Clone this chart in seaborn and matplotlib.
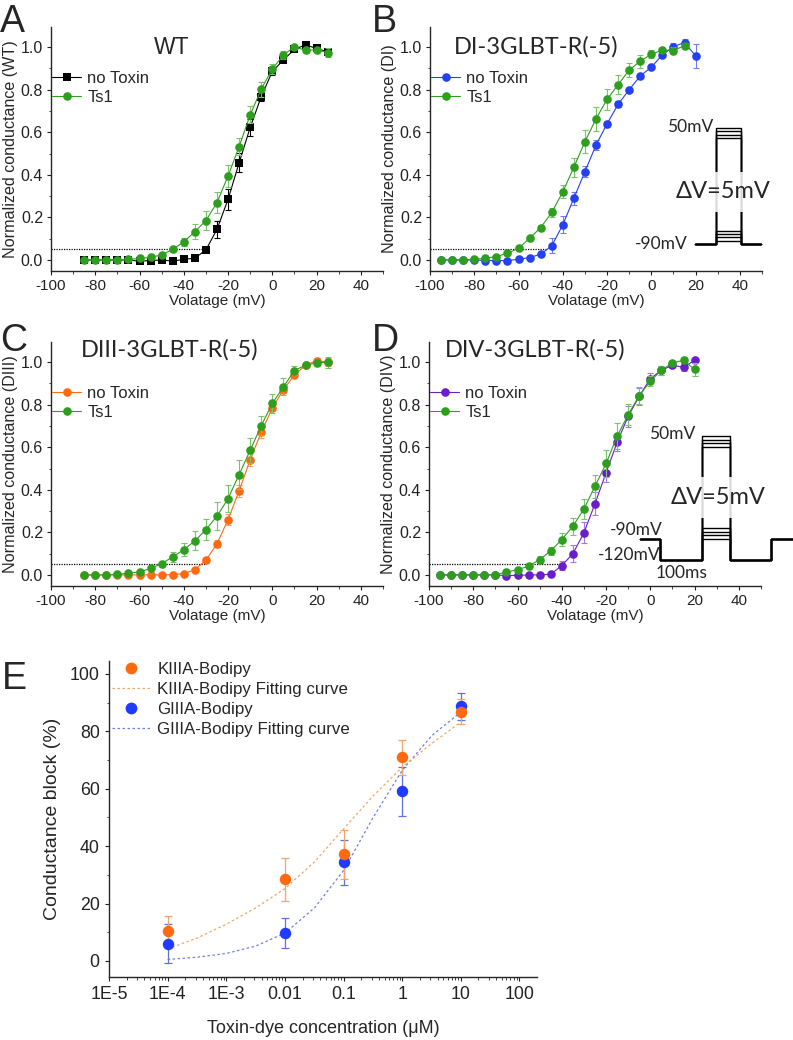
import matplotlib
matplotlib.use("Agg")
from matplotlib import pyplot as plt
from matplotlib.lines import Line2D
from matplotlib.ticker import MultipleLocator, FixedLocator, LogLocator, NullFormatter, FormatStrFormatter
import numpy as np
import pandas as pd
import seaborn as sns

W, H = 793, 1040

# ---------------- panel A (WT) ----------------
volt_a = [-85, -80, -75, -70, -65, -60, -55, -50, -45, -40, -35, -30, -25, -20, -15, -10, -5, 0, 5, 10, 15, 20, 25]
wt_ctrl = [0, 0, 0, 0, 0, -0.006, -0.003, 0, -0.006, 0.003, 0.008, 0.047, 0.144, 0.285, 0.457, 0.623, 0.768, 0.886, 0.94, 0.99, 1.011, 0.994, 0.978]
wt_ctrl_err = [0, 0, 0, 0, 0, 0.005, 0.005, 0.005, 0.005, 0.005, 0.008, 0.01, 0.04, 0.05, 0.045, 0.04, 0.02, 0.015, 0.01, 0.01, 0.005, 0.01, 0.015]
wt_ts1 = [0, 0, 0, 0, 0.003, 0.007, 0.012, 0.024, 0.05, 0.085, 0.133, 0.185, 0.27, 0.395, 0.533, 0.682, 0.803, 0.898, 0.963, 1.002, 0.985, 0.988, 0.975]
wt_ts1_err = [0, 0, 0, 0, 0.005, 0.005, 0.008, 0.01, 0.01, 0.02, 0.035, 0.045, 0.05, 0.05, 0.04, 0.04, 0.035, 0.025, 0.02, 0.01, 0.01, 0.01, 0.02]

# ---------------- panel B (DI) ----------------
volt_b_ctrl = [-95, -90, -85, -80, -75, -70, -65, -60, -55, -50, -45, -40, -35, -30, -25, -20, -15, -10, -5, 0, 5, 10, 15, 20]
di_ctrl = [0, 0, 0, 0, -0.003, -0.003, -0.003, 0.003, 0.011, 0.027, 0.066, 0.165, 0.29, 0.415, 0.54, 0.64, 0.732, 0.8, 0.865, 0.906, 0.964, 1.003, 1.022, 0.959]
di_ctrl_err = [0, 0, 0, 0, 0, 0, 0, 0, 0.005, 0.01, 0.035, 0.04, 0.03, 0.025, 0.025, 0.015, 0.015, 0.01, 0.01, 0.01, 0.01, 0.015, 0.015, 0.055]
volt_b_ts1 = [-95, -90, -85, -80, -75, -70, -65, -60, -55, -50, -45, -40, -35, -30, -25, -20, -15, -10, -5, 0, 5, 10, 15]
di_ts1 = [0, 0, 0, 0.003, 0.008, 0.016, 0.031, 0.055, 0.102, 0.152, 0.223, 0.32, 0.436, 0.556, 0.663, 0.755, 0.824, 0.893, 0.934, 0.967, 0.987, 0.984, 1.008]
di_ts1_err = [0, 0, 0, 0, 0, 0.005, 0.005, 0.01, 0.01, 0.01, 0.02, 0.03, 0.045, 0.055, 0.055, 0.05, 0.045, 0.035, 0.03, 0.02, 0.01, 0.015, 0.01]

# ---------------- panel C (DIII) ----------------
volt_c = [-85, -80, -75, -70, -65, -60, -55, -50, -45, -40, -35, -30, -25, -20, -15, -10, -5, 0, 5, 10, 15, 20, 25]
diii_ctrl = [0, 0, 0, 0, 0, 0, 0, 0, 0.002, 0.006, 0.025, 0.069, 0.147, 0.26, 0.395, 0.542, 0.671, 0.785, 0.871, 0.94, 0.986, 1.008, 1.0]
diii_ctrl_err = [0, 0, 0, 0, 0, 0, 0, 0, 0.003, 0.005, 0.008, 0.01, 0.015, 0.025, 0.03, 0.03, 0.025, 0.015, 0.015, 0.01, 0.01, 0.01, 0.02]
diii_ts1 = [0, 0, 0, 0.003, 0.008, 0.014, 0.031, 0.053, 0.085, 0.119, 0.16, 0.213, 0.276, 0.359, 0.472, 0.586, 0.702, 0.806, 0.884, 0.961, 0.986, 0.997, 1.0]
diii_ts1_err = [0, 0, 0, 0, 0.005, 0.005, 0.008, 0.01, 0.025, 0.03, 0.045, 0.05, 0.065, 0.065, 0.07, 0.06, 0.045, 0.045, 0.04, 0.02, 0.01, 0.015, 0.025]

# ---------------- panel D (DIV) ----------------
volt_d = [-95, -90, -85, -80, -75, -70, -65, -60, -55, -50, -45, -40, -35, -30, -25, -20, -15, -10, -5, 0, 5, 10, 15, 20]
div_ctrl = [0, 0, 0, 0, 0, 0, -0.003, -0.002, 0, 0, 0.003, 0.044, 0.1, 0.198, 0.335, 0.48, 0.624, 0.746, 0.84, 0.923, 0.962, 0.986, 0.976, 1.009]
div_ctrl_err = [0, 0, 0, 0, 0, 0, 0, 0, 0, 0, 0.005, 0.02, 0.04, 0.05, 0.055, 0.045, 0.04, 0.05, 0.04, 0.025, 0.02, 0.015, 0.015, 0.01]
div_ts1 = [0, 0, 0, 0, 0, 0.002, 0.013, 0.025, 0.041, 0.072, 0.113, 0.166, 0.229, 0.31, 0.417, 0.524, 0.652, 0.754, 0.843, 0.911, 0.962, 0.997, 1.009, 0.966]
div_ts1_err = [0, 0, 0, 0, 0, 0, 0.005, 0.005, 0.01, 0.015, 0.02, 0.03, 0.04, 0.045, 0.055, 0.065, 0.06, 0.05, 0.04, 0.025, 0.02, 0.01, 0.015, 0.03]

# threshold line (dotted) in each IV panel
thresh_level = 0.053
thresh_end = {"A": -30, "B": -47, "C": -30, "D": -41}

# ---------------- panel E (dose response) ----------------
conc = [1e-4, 0.01, 0.1, 1, 10]
kiiia_block = [10.6, 28.4, 37.1, 71.0, 86.9]
kiiia_err = [4.9, 7.6, 8.6, 6.1, 4.2]
giiia_block = [6.0, 9.7, 34.3, 59.1, 88.7]
giiia_err = [6.8, 5.3, 7.7, 8.6, 4.6]
fit_conc = [1e-4, 3.2e-4, 1e-3, 3.2e-3, 0.01, 0.032, 0.1, 0.32, 1, 3.2, 10]
kiiia_fit = [4.2, 8.0, 12.8, 18.5, 25.2, 34.5, 46.0, 57.5, 67.5, 75.8, 83.2]
giiia_fit = [0.5, 1.3, 2.6, 5.2, 9.7, 18.5, 31.5, 50.0, 66.4, 78.5, 86.7]
e_ticks = [1e-5, 1e-4, 1e-3, 1e-2, 1e-1, 1, 10, 100]
e_ticklabels = ["1E-5", "1E-4", "1E-3", "0.01", "0.1", "1", "10", "100"]

# voltage protocols (schematic)
b_hold, b_steps_low, b_steps_high = -90, [-85, -80, -75, -70], [35, 40, 45, 50]
d_hold, d_pre, d_steps_low, d_steps_high = -90, -120, [-90, -85, -80, -75], [35, 40, 45, 50]

sns.set_style("ticks")
plt.rcParams["font.family"] = ["Liberation Sans", "DejaVu Sans"]
plt.rcParams["axes.unicode_minus"] = False
plt.rcParams["axes.linewidth"] = 1.0
plt.rcParams["xtick.major.size"] = 3.2
plt.rcParams["ytick.major.size"] = 3.2
plt.rcParams["xtick.minor.size"] = 1.8
plt.rcParams["ytick.minor.size"] = 1.8
plt.rcParams["xtick.direction"] = "out"
plt.rcParams["ytick.direction"] = "out"
plt.rcParams["xtick.color"] = "#222222"
plt.rcParams["ytick.color"] = "#222222"

GREEN, GREEN_E = "#2E9E1E", "#78C46A"
BLACK = "#000000"
BLUE, BLUE_E = "#2440F0", "#6E7EEA"
ORANGE, ORANGE_E = "#FF6A10", "#F4A46A"
PURPLE, PURPLE_E = "#6A1DC9", "#A07ADF"
TITLE_FONT = ["Lato", "DejaVu Sans"]

fig = plt.figure(figsize=(W / 100, H / 100), dpi=100)


def px_axes(l, t, r, b):
    return fig.add_axes([l / W, 1 - b / H, (r - l) / W, (b - t) / H])


def plot_iv(ax, key, vc, gc, ec, vt, gt, et, col, ecol, mk, ylabel, title, title_xy, title_font, title_size):
    ax.errorbar(vc, gc, yerr=ec, fmt="none", ecolor=ecol, elinewidth=0.8, capsize=2.2, capthick=0.8, zorder=2)
    sns.lineplot(x=vc, y=gc, ax=ax, color=col, marker=mk, markersize=5.5 if mk == "s" else 6.2,
                 markeredgewidth=0, linewidth=0.8, label="no Toxin", errorbar=None, sort=False, zorder=3)
    ax.errorbar(vt, gt, yerr=et, fmt="none", ecolor=GREEN_E, elinewidth=0.8, capsize=2.2, capthick=0.8, zorder=4)
    sns.lineplot(x=vt, y=gt, ax=ax, color=GREEN, marker="o", markersize=6.2,
                 markeredgewidth=0, linewidth=0.8, label="Ts1", errorbar=None, sort=False, zorder=5)
    ax.plot([-100, thresh_end[key]], [thresh_level, thresh_level], color="black", lw=0.9, ls=(0, (1, 1)), zorder=1)
    ax.set_xlim(-100, 50)
    ax.set_ylim(-0.052, 1.095)
    ax.xaxis.set_major_locator(MultipleLocator(20))
    ax.xaxis.set_minor_locator(MultipleLocator(10))
    ax.yaxis.set_major_locator(MultipleLocator(0.2))
    ax.yaxis.set_minor_locator(MultipleLocator(0.1))
    ax.yaxis.set_major_formatter(FormatStrFormatter("%.1f"))
    ax.tick_params(axis="x", labelsize=11, pad=2.5)
    ax.tick_params(axis="y", labelsize=11.5, pad=2.5)
    ax.set_xlabel("Volatage (mV)", fontsize=11, labelpad=1)
    ax.set_ylabel(ylabel, fontsize=11.6, labelpad=2)
    sns.despine(ax=ax)
    ax.text(title_xy[0], title_xy[1], title, transform=ax.transAxes, ha="center", va="center",
            fontsize=title_size, family=title_font)
    ax.legend(loc="upper left", bbox_to_anchor=(0.004, 0.82), frameon=False, fontsize=12,
              handlelength=1.75, handletextpad=0.35, labelspacing=0.25, borderaxespad=0, borderpad=0)


ax_a = px_axes(51, 27, 383, 271)
plot_iv(ax_a, "A", volt_a, wt_ctrl, wt_ctrl_err, volt_a, wt_ts1, wt_ts1_err, BLACK, BLACK, "s",
        "Normalized conductance (WT)", "WT", (0.364, 0.918), ["Liberation Sans", "DejaVu Sans"], 16.5)
ax_b = px_axes(430, 27, 762, 271)
plot_iv(ax_b, "B", volt_b_ctrl, di_ctrl, di_ctrl_err, volt_b_ts1, di_ts1, di_ts1_err, BLUE, BLUE_E, "o",
        "Normalized conductance (DI)", "DI-3GLBT-R(-5)", (0.32, 0.918), TITLE_FONT, 17)
ax_c = px_axes(51, 342, 383, 586)
plot_iv(ax_c, "C", volt_c, diii_ctrl, diii_ctrl_err, volt_c, diii_ts1, diii_ts1_err, ORANGE, ORANGE_E, "o",
        "Normalized conductance (DIII)", "DIII-3GLBT-R(-5)", (0.358, 0.967), TITLE_FONT, 17)
ax_d = px_axes(429, 342, 761, 586)
plot_iv(ax_d, "D", volt_d, div_ctrl, div_ctrl_err, volt_d, div_ts1, div_ts1_err, PURPLE, PURPLE_E, "o",
        "Normalized conductance (DIV)", "DIV-3GLBT-R(-5)", (0.32, 0.967), TITLE_FONT, 17)

# ---------------- protocol insets ----------------
def brk(v, shift):
    return v + shift if v > 0 else v

# B: hold -> test -> hold
ins_b = px_axes(695, 128, 761, 244)
ins_b.set_axis_off()
ins_b.set_xlim(0, 66)
ins_b.set_ylim(-90, 84)
tb = [0, 21, 21, 46, 46, 66]
for lv in b_steps_low + b_steps_high:
    y = brk(lv, 34)
    ins_b.plot(tb, [b_hold, b_hold, y, y, b_hold, b_hold], color="black", lw=1.0, clip_on=False)
ins_b.text(18, 85, "50mV", ha="right", va="center", fontsize=12.5, family=TITLE_FONT)
ins_b.text(-7, -90, "-90mV", ha="right", va="center", fontsize=12.5, family=TITLE_FONT)
ins_b.text(28, -12, "\u0394V=5mV", ha="center", va="center", fontsize=17, family=TITLE_FONT,
           bbox=dict(facecolor="white", edgecolor="none", alpha=0.85, pad=7))

# D: hold -> prepulse -> test -> prepulse -> hold
ins_d = px_axes(640, 436, 793, 560)
ins_d.set_axis_off()
ins_d.set_xlim(0, 364)
ins_d.set_ylim(-120, 55)
td = [0, 48, 48, 148, 148, 214, 214, 312, 312, 364]
for lv in d_steps_low + d_steps_high:
    y = brk(lv, 5)
    ins_d.plot(td, [d_hold, d_hold, d_pre, d_pre, y, y, d_pre, d_pre, d_hold, d_hold],
               color="black", lw=1.0, clip_on=False)
ins_d.text(131, 58, "50mV", ha="right", va="center", fontsize=12.5, family=TITLE_FONT)
ins_d.text(55, -78, "-90mV", ha="right", va="center", fontsize=12.5, family=TITLE_FONT)
ins_d.text(48, -113, "-120mV", ha="right", va="center", fontsize=12.5, family=TITLE_FONT)
ins_d.text(98, -138, "100ms", ha="center", va="center", fontsize=12.5, family=TITLE_FONT)
ins_d.text(186, -32, "\u0394V=5mV", ha="center", va="center", fontsize=17, family=TITLE_FONT,
           bbox=dict(facecolor="white", edgecolor="none", alpha=0.85, pad=7))

# ---------------- panel E ----------------
ax_e = px_axes(109, 661, 537, 977)
df_k = pd.DataFrame({"conc": conc, "block": kiiia_block})
df_g = pd.DataFrame({"conc": conc, "block": giiia_block})
df_kf = pd.DataFrame({"conc": fit_conc, "block": kiiia_fit})
df_gf = pd.DataFrame({"conc": fit_conc, "block": giiia_fit})
sns.lineplot(data=df_gf, x="conc", y="block", ax=ax_e, color="#6E7EE6", lw=0.9, ls=(0, (2, 2)), zorder=1)
sns.lineplot(data=df_kf, x="conc", y="block", ax=ax_e, color="#F2A564", lw=0.9, ls=(0, (2, 2)), zorder=1)
ax_e.errorbar(conc, giiia_block, yerr=giiia_err, fmt="none", ecolor="#6070E0", elinewidth=0.9, capsize=3, capthick=0.9, zorder=2)
ax_e.errorbar(conc, kiiia_block, yerr=kiiia_err, fmt="none", ecolor=ORANGE_E, elinewidth=0.9, capsize=3, capthick=0.9, zorder=3)
sns.scatterplot(data=df_g, x="conc", y="block", ax=ax_e, color="#1F3BFF", s=68, linewidth=0, zorder=4)
sns.scatterplot(data=df_k, x="conc", y="block", ax=ax_e, color=ORANGE, s=68, linewidth=0, zorder=5)
ax_e.set_xscale("log")
ax_e.set_xlim(1e-5, 199)
ax_e.set_ylim(-5.6, 104.5)
ax_e.xaxis.set_major_locator(FixedLocator(e_ticks))
ax_e.set_xticklabels(e_ticklabels)
ax_e.xaxis.set_minor_locator(LogLocator(base=10, subs=[2, 3, 4, 5, 6, 7, 8, 9], numticks=20))
ax_e.xaxis.set_minor_formatter(NullFormatter())
ax_e.yaxis.set_major_locator(MultipleLocator(20))
ax_e.yaxis.set_minor_locator(MultipleLocator(10))
ax_e.tick_params(labelsize=12.8, pad=3.5)
ax_e.set_xlabel("Toxin-dye concentration (\u03bcM)", fontsize=13, labelpad=12)
ax_e.set_ylabel("Conductance block (%)", fontsize=14, labelpad=6)
sns.despine(ax=ax_e)
handles = [
    Line2D([], [], color=ORANGE, marker="o", ls="none", markersize=8.5, markeredgewidth=0),
    Line2D([], [], color="#F2A564", ls=(0, (2, 2)), lw=0.9),
    Line2D([], [], color="#1F3BFF", marker="o", ls="none", markersize=8.5, markeredgewidth=0),
    Line2D([], [], color="#6E7EE6", ls=(0, (2, 2)), lw=0.9),
]
labels = ["KIIIA-Bodipy", "KIIIA-Bodipy Fitting curve", "GIIIA-Bodipy", "GIIIA-Bodipy Fitting curve"]
ax_e.legend(handles, labels, loc="upper left", bbox_to_anchor=(0.006, 0.998), frameon=False, fontsize=12.2,
            handlelength=2.3, handletextpad=0.4, labelspacing=0.3, borderaxespad=0, borderpad=0)

# panel letters
for letter, (x, y) in {"A": (0, 4), "B": (372, 4), "C": (0, 323), "D": (372, 323), "E": (2, 661)}.items():
    fig.text(x / W, 1 - y / H, letter, ha="left", va="top", fontsize=27)

fig.savefig("out.png", dpi=100)
